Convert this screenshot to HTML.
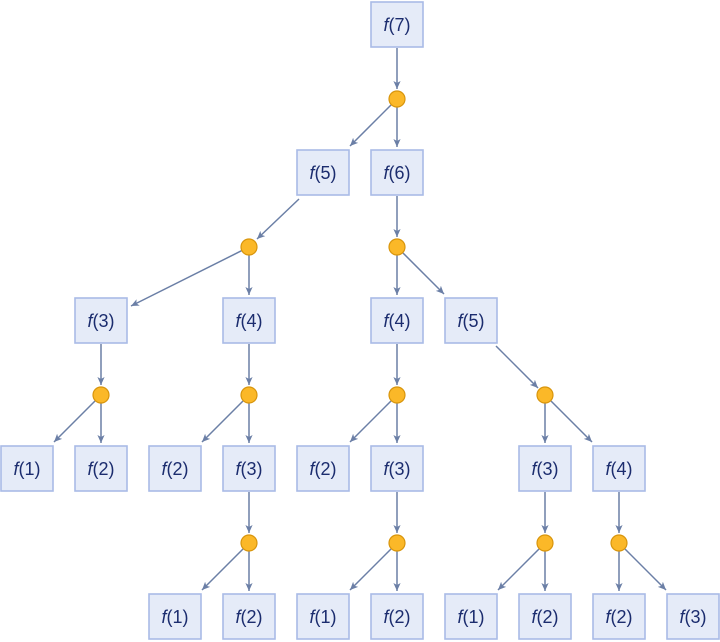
<!DOCTYPE html>
<html><head><meta charset="utf-8"><style>
html,body{margin:0;padding:0;background:#fff;width:720px;height:642px;overflow:hidden}
svg{display:block}
.b{fill:#e5ebf8;stroke:#a9bbe6;stroke-width:1.6}
.c{fill:#fbb828;stroke:#d8950c;stroke-width:1.2}
.e{stroke:#6b7fa6;stroke-width:1.5;fill:none}
text{font-family:"Liberation Sans",sans-serif;font-size:18px;fill:#1b2c6e;text-anchor:middle}
</style></head><body>
<svg width="720" height="642" viewBox="0 0 720 642" xmlns="http://www.w3.org/2000/svg">
<defs><marker id="a" viewBox="0 0 10 10" refX="10" refY="5" markerWidth="8" markerHeight="8" markerUnits="userSpaceOnUse" orient="auto"><path d="M0,0.5 L10,5 L0,9.5 L2.5,5 Z" fill="#6b7fa6"/></marker></defs>
<g class="e" marker-end="url(#a)">
<line x1="397" y1="48" x2="397" y2="89"/>
<line x1="397" y1="196" x2="397" y2="237"/>
<line x1="101" y1="344" x2="101" y2="385"/>
<line x1="249" y1="344" x2="249" y2="385"/>
<line x1="397" y1="344" x2="397" y2="385"/>
<line x1="249" y1="492" x2="249" y2="533"/>
<line x1="397" y1="492" x2="397" y2="533"/>
<line x1="545" y1="492" x2="545" y2="533"/>
<line x1="619" y1="492" x2="619" y2="533"/>
<line x1="299" y1="199" x2="257" y2="239"/>
<line x1="496" y1="346" x2="538" y2="388"/>
<line x1="397" y1="107" x2="397" y2="147"/>
<line x1="249" y1="255" x2="249" y2="295"/>
<line x1="397" y1="255" x2="397" y2="295"/>
<line x1="101" y1="403" x2="101" y2="443"/>
<line x1="249" y1="403" x2="249" y2="443"/>
<line x1="397" y1="403" x2="397" y2="443"/>
<line x1="545" y1="403" x2="545" y2="443"/>
<line x1="249" y1="551" x2="249" y2="591"/>
<line x1="397" y1="551" x2="397" y2="591"/>
<line x1="545" y1="551" x2="545" y2="591"/>
<line x1="619" y1="551" x2="619" y2="591"/>
<line x1="391" y1="105" x2="350" y2="146"/>
<line x1="95" y1="401" x2="54" y2="442"/>
<line x1="243" y1="401" x2="202" y2="442"/>
<line x1="391" y1="401" x2="350" y2="442"/>
<line x1="243" y1="549" x2="202" y2="590"/>
<line x1="391" y1="549" x2="350" y2="590"/>
<line x1="539" y1="549" x2="498" y2="590"/>
<line x1="403" y1="253" x2="444" y2="294"/>
<line x1="551" y1="401" x2="592" y2="442"/>
<line x1="625" y1="549" x2="666" y2="590"/>
<line x1="241.8" y1="250.6" x2="131" y2="306"/>
</g>
<g class="c">
<circle cx="397" cy="99" r="8"/>
<circle cx="249" cy="247" r="8"/><circle cx="397" cy="247" r="8"/>
<circle cx="101" cy="395" r="8"/><circle cx="249" cy="395" r="8"/><circle cx="397" cy="395" r="8"/><circle cx="545" cy="395" r="8"/>
<circle cx="249" cy="543" r="8"/><circle cx="397" cy="543" r="8"/><circle cx="545" cy="543" r="8"/><circle cx="619" cy="543" r="8"/>
</g>
<g class="b">
<rect x="371" y="2" width="52" height="45"/>
<rect x="297" y="150" width="52" height="45"/><rect x="371" y="150" width="52" height="45"/>
<rect x="75" y="298" width="52" height="45"/><rect x="223" y="298" width="52" height="45"/><rect x="371" y="298" width="52" height="45"/><rect x="445" y="298" width="52" height="45"/>
<rect x="1" y="446" width="52" height="45"/><rect x="75" y="446" width="52" height="45"/><rect x="149" y="446" width="52" height="45"/><rect x="223" y="446" width="52" height="45"/><rect x="297" y="446" width="52" height="45"/><rect x="371" y="446" width="52" height="45"/><rect x="519" y="446" width="52" height="45"/><rect x="593" y="446" width="52" height="45"/>
<rect x="149" y="594" width="52" height="45"/><rect x="223" y="594" width="52" height="45"/><rect x="297" y="594" width="52" height="45"/><rect x="371" y="594" width="52" height="45"/><rect x="445" y="594" width="52" height="45"/><rect x="519" y="594" width="52" height="45"/><rect x="593" y="594" width="52" height="45"/><rect x="667" y="594" width="52" height="45"/>
</g>
<g>
<text x="397" y="31"><tspan font-style="italic">f</tspan>(7)</text>
<text x="323" y="179"><tspan font-style="italic">f</tspan>(5)</text>
<text x="397" y="179"><tspan font-style="italic">f</tspan>(6)</text>
<text x="101" y="327"><tspan font-style="italic">f</tspan>(3)</text>
<text x="249" y="327"><tspan font-style="italic">f</tspan>(4)</text>
<text x="397" y="327"><tspan font-style="italic">f</tspan>(4)</text>
<text x="471" y="327"><tspan font-style="italic">f</tspan>(5)</text>
<text x="27" y="475"><tspan font-style="italic">f</tspan>(1)</text>
<text x="101" y="475"><tspan font-style="italic">f</tspan>(2)</text>
<text x="175" y="475"><tspan font-style="italic">f</tspan>(2)</text>
<text x="249" y="475"><tspan font-style="italic">f</tspan>(3)</text>
<text x="323" y="475"><tspan font-style="italic">f</tspan>(2)</text>
<text x="397" y="475"><tspan font-style="italic">f</tspan>(3)</text>
<text x="545" y="475"><tspan font-style="italic">f</tspan>(3)</text>
<text x="619" y="475"><tspan font-style="italic">f</tspan>(4)</text>
<text x="175" y="623"><tspan font-style="italic">f</tspan>(1)</text>
<text x="249" y="623"><tspan font-style="italic">f</tspan>(2)</text>
<text x="323" y="623"><tspan font-style="italic">f</tspan>(1)</text>
<text x="397" y="623"><tspan font-style="italic">f</tspan>(2)</text>
<text x="471" y="623"><tspan font-style="italic">f</tspan>(1)</text>
<text x="545" y="623"><tspan font-style="italic">f</tspan>(2)</text>
<text x="619" y="623"><tspan font-style="italic">f</tspan>(2)</text>
<text x="693" y="623"><tspan font-style="italic">f</tspan>(3)</text>
</g>
</svg>
</body></html>
